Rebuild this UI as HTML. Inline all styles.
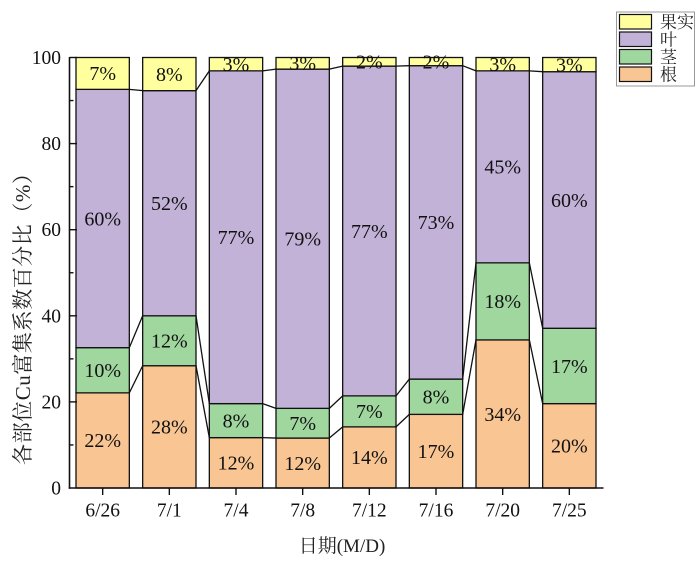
<!DOCTYPE html>
<html><head><meta charset="utf-8"><style>
html,body{margin:0;padding:0;background:#fff;}
svg{display:block;}
.t{font-family:"Liberation Serif","Noto Serif CJK SC",serif;font-size:19.5px;fill:#111;}
.v{font-family:"Liberation Serif","Noto Serif CJK SC",serif;font-size:20px;fill:#111;}
.c{font-family:"Liberation Serif","Noto Serif CJK SC",serif;fill:#222;}
</style></head><body>
<svg width="700" height="569" viewBox="0 0 700 569" xmlns="http://www.w3.org/2000/svg">
<g stroke="#111" stroke-width="1.3">
<rect x="76" y="392.86" width="53.33" height="95.14" fill="#F9C593"/>
<rect x="76" y="347.66" width="53.33" height="45.2" fill="#A0D79F"/>
<rect x="76" y="89.36" width="53.33" height="258.3" fill="#C2B2D8"/>
<rect x="76" y="57.5" width="53.33" height="31.86" fill="#FFFF9E"/>
<rect x="142.67" y="365.74" width="53.33" height="122.26" fill="#F9C593"/>
<rect x="142.67" y="315.8" width="53.33" height="49.94" fill="#A0D79F"/>
<rect x="142.67" y="90.65" width="53.33" height="225.15" fill="#C2B2D8"/>
<rect x="142.67" y="57.5" width="53.33" height="33.15" fill="#FFFF9E"/>
<rect x="209.33" y="437.63" width="53.33" height="50.37" fill="#F9C593"/>
<rect x="209.33" y="403.62" width="53.33" height="34.01" fill="#A0D79F"/>
<rect x="209.33" y="70.85" width="53.33" height="332.77" fill="#C2B2D8"/>
<rect x="209.33" y="57.5" width="53.33" height="13.35" fill="#FFFF9E"/>
<rect x="276" y="438.06" width="53.33" height="49.94" fill="#F9C593"/>
<rect x="276" y="408.36" width="53.33" height="29.7" fill="#A0D79F"/>
<rect x="276" y="69.12" width="53.33" height="339.24" fill="#C2B2D8"/>
<rect x="276" y="57.5" width="53.33" height="11.62" fill="#FFFF9E"/>
<rect x="342.67" y="426.87" width="53.33" height="61.13" fill="#F9C593"/>
<rect x="342.67" y="395.87" width="53.33" height="31" fill="#A0D79F"/>
<rect x="342.67" y="66.11" width="53.33" height="329.76" fill="#C2B2D8"/>
<rect x="342.67" y="57.5" width="53.33" height="8.61" fill="#FFFF9E"/>
<rect x="409.33" y="414.38" width="53.33" height="73.62" fill="#F9C593"/>
<rect x="409.33" y="379.08" width="53.33" height="35.3" fill="#A0D79F"/>
<rect x="409.33" y="65.68" width="53.33" height="313.4" fill="#C2B2D8"/>
<rect x="409.33" y="57.5" width="53.33" height="8.18" fill="#FFFF9E"/>
<rect x="476" y="339.91" width="53.33" height="148.09" fill="#F9C593"/>
<rect x="476" y="262.85" width="53.33" height="77.06" fill="#A0D79F"/>
<rect x="476" y="70.85" width="53.33" height="192" fill="#C2B2D8"/>
<rect x="476" y="57.5" width="53.33" height="13.35" fill="#FFFF9E"/>
<rect x="542.67" y="403.62" width="53.33" height="84.38" fill="#F9C593"/>
<rect x="542.67" y="328.28" width="53.33" height="75.34" fill="#A0D79F"/>
<rect x="542.67" y="71.71" width="53.33" height="256.57" fill="#C2B2D8"/>
<rect x="542.67" y="57.5" width="53.33" height="14.21" fill="#FFFF9E"/>
</g>
<g stroke="#111" stroke-width="1.3" fill="none">
<polyline points="129.33,392.86 142.67,365.74"/>
<polyline points="196,365.74 209.33,437.63"/>
<polyline points="262.67,437.63 276,438.06"/>
<polyline points="329.33,438.06 342.67,426.87"/>
<polyline points="396,426.87 409.33,414.38"/>
<polyline points="462.67,414.38 476,339.91"/>
<polyline points="529.33,339.91 542.67,403.62"/>
<polyline points="129.33,347.66 142.67,315.8"/>
<polyline points="196,315.8 209.33,403.62"/>
<polyline points="262.67,403.62 276,408.36"/>
<polyline points="329.33,408.36 342.67,395.87"/>
<polyline points="396,395.87 409.33,379.08"/>
<polyline points="462.67,379.08 476,262.85"/>
<polyline points="529.33,262.85 542.67,328.28"/>
<polyline points="129.33,89.36 142.67,90.65"/>
<polyline points="196,90.65 209.33,70.85"/>
<polyline points="262.67,70.85 276,69.12"/>
<polyline points="329.33,69.12 342.67,66.11"/>
<polyline points="396,66.11 409.33,65.68"/>
<polyline points="462.67,65.68 476,70.85"/>
<polyline points="529.33,70.85 542.67,71.71"/>
</g>
<g stroke="#111" stroke-width="1.6" fill="none">
<line x1="69.5" y1="57" x2="69.5" y2="488.8"/>
<line x1="68.7" y1="488" x2="603.5" y2="488"/>
</g>
<g stroke="#111" stroke-width="1.4">
<line x1="69.5" y1="57.5" x2="77" y2="57.5"/>
<line x1="69.5" y1="143.6" x2="77" y2="143.6"/>
<line x1="69.5" y1="229.7" x2="77" y2="229.7"/>
<line x1="69.5" y1="315.8" x2="77" y2="315.8"/>
<line x1="69.5" y1="401.9" x2="77" y2="401.9"/>
<line x1="69.5" y1="100.55" x2="73.5" y2="100.55"/>
<line x1="69.5" y1="186.65" x2="73.5" y2="186.65"/>
<line x1="69.5" y1="272.75" x2="73.5" y2="272.75"/>
<line x1="69.5" y1="358.85" x2="73.5" y2="358.85"/>
<line x1="69.5" y1="444.95" x2="73.5" y2="444.95"/>
<line x1="102.67" y1="488" x2="102.67" y2="495"/>
<line x1="169.33" y1="488" x2="169.33" y2="495"/>
<line x1="236" y1="488" x2="236" y2="495"/>
<line x1="302.67" y1="488" x2="302.67" y2="495"/>
<line x1="369.33" y1="488" x2="369.33" y2="495"/>
<line x1="436" y1="488" x2="436" y2="495"/>
<line x1="502.67" y1="488" x2="502.67" y2="495"/>
<line x1="569.33" y1="488" x2="569.33" y2="495"/>
</g>
<g class="t" text-anchor="end">
<text x="61" y="64">100</text>
<text x="61" y="150.1">80</text>
<text x="61" y="236.2">60</text>
<text x="61" y="322.3">40</text>
<text x="61" y="408.4">20</text>
<text x="61" y="494.5">0</text>
</g>
<g class="t" text-anchor="middle">
<text x="102.67" y="516.5">6/26</text>
<text x="169.33" y="516.5">7/1</text>
<text x="236" y="516.5">7/4</text>
<text x="302.67" y="516.5">7/8</text>
<text x="369.33" y="516.5">7/12</text>
<text x="436" y="516.5">7/16</text>
<text x="502.67" y="516.5">7/20</text>
<text x="569.33" y="516.5">7/25</text>
</g>
<g class="v" text-anchor="middle">
<text x="102.67" y="447.2">22%</text>
<text x="102.67" y="377.1">10%</text>
<text x="102.67" y="225.3">60%</text>
<text x="102.67" y="80.2">7%</text>
<text x="169.33" y="433.7">28%</text>
<text x="169.33" y="347.6">12%</text>
<text x="169.33" y="210">52%</text>
<text x="169.33" y="80.9">8%</text>
<text x="236" y="469.6">12%</text>
<text x="236" y="427.4">8%</text>
<text x="236" y="244">77%</text>
<text x="236" y="71">3%</text>
<text x="302.67" y="469.8">12%</text>
<text x="302.67" y="430">7%</text>
<text x="302.67" y="245.5">79%</text>
<text x="302.67" y="70.1">3%</text>
<text x="369.33" y="464.2">14%</text>
<text x="369.33" y="418.2">7%</text>
<text x="369.33" y="237.8">77%</text>
<text x="369.33" y="68.6">2%</text>
<text x="436" y="458">17%</text>
<text x="436" y="403.5">8%</text>
<text x="436" y="229.2">73%</text>
<text x="436" y="68.4">2%</text>
<text x="502.67" y="420.8">34%</text>
<text x="502.67" y="308.2">18%</text>
<text x="502.67" y="173.6">45%</text>
<text x="502.67" y="71">3%</text>
<text x="569.33" y="452.6">20%</text>
<text x="569.33" y="372.8">17%</text>
<text x="569.33" y="206.8">60%</text>
<text x="569.33" y="71.4">3%</text>
</g>
<text class="c" x="342" y="552" font-size="19" text-anchor="middle">日期(M/D)</text>
<text class="c" font-size="21" text-anchor="middle" transform="translate(30,314) rotate(-90)" textLength="302" lengthAdjust="spacing">各部位Cu富集系数百分比（%）</text>
<rect x="616.5" y="12" width="78" height="74" fill="#fff" stroke="#999" stroke-width="1"/>
<g stroke="#111" stroke-width="1.2">
<rect x="619.5" y="14.5" width="32" height="14.5" fill="#FFFF9E"/>
<rect x="619.5" y="32" width="32" height="14.5" fill="#C2B2D8"/>
<rect x="619.5" y="49.5" width="32" height="14.5" fill="#A0D79F"/>
<rect x="619.5" y="67" width="32" height="14.5" fill="#F9C593"/>
</g>
<g class="c" font-size="17">
<text x="660" y="28">果实</text>
<text x="660" y="45.5">叶</text>
<text x="660" y="63">茎</text>
<text x="660" y="80.5">根</text>
</g>
</svg>
</body></html>
